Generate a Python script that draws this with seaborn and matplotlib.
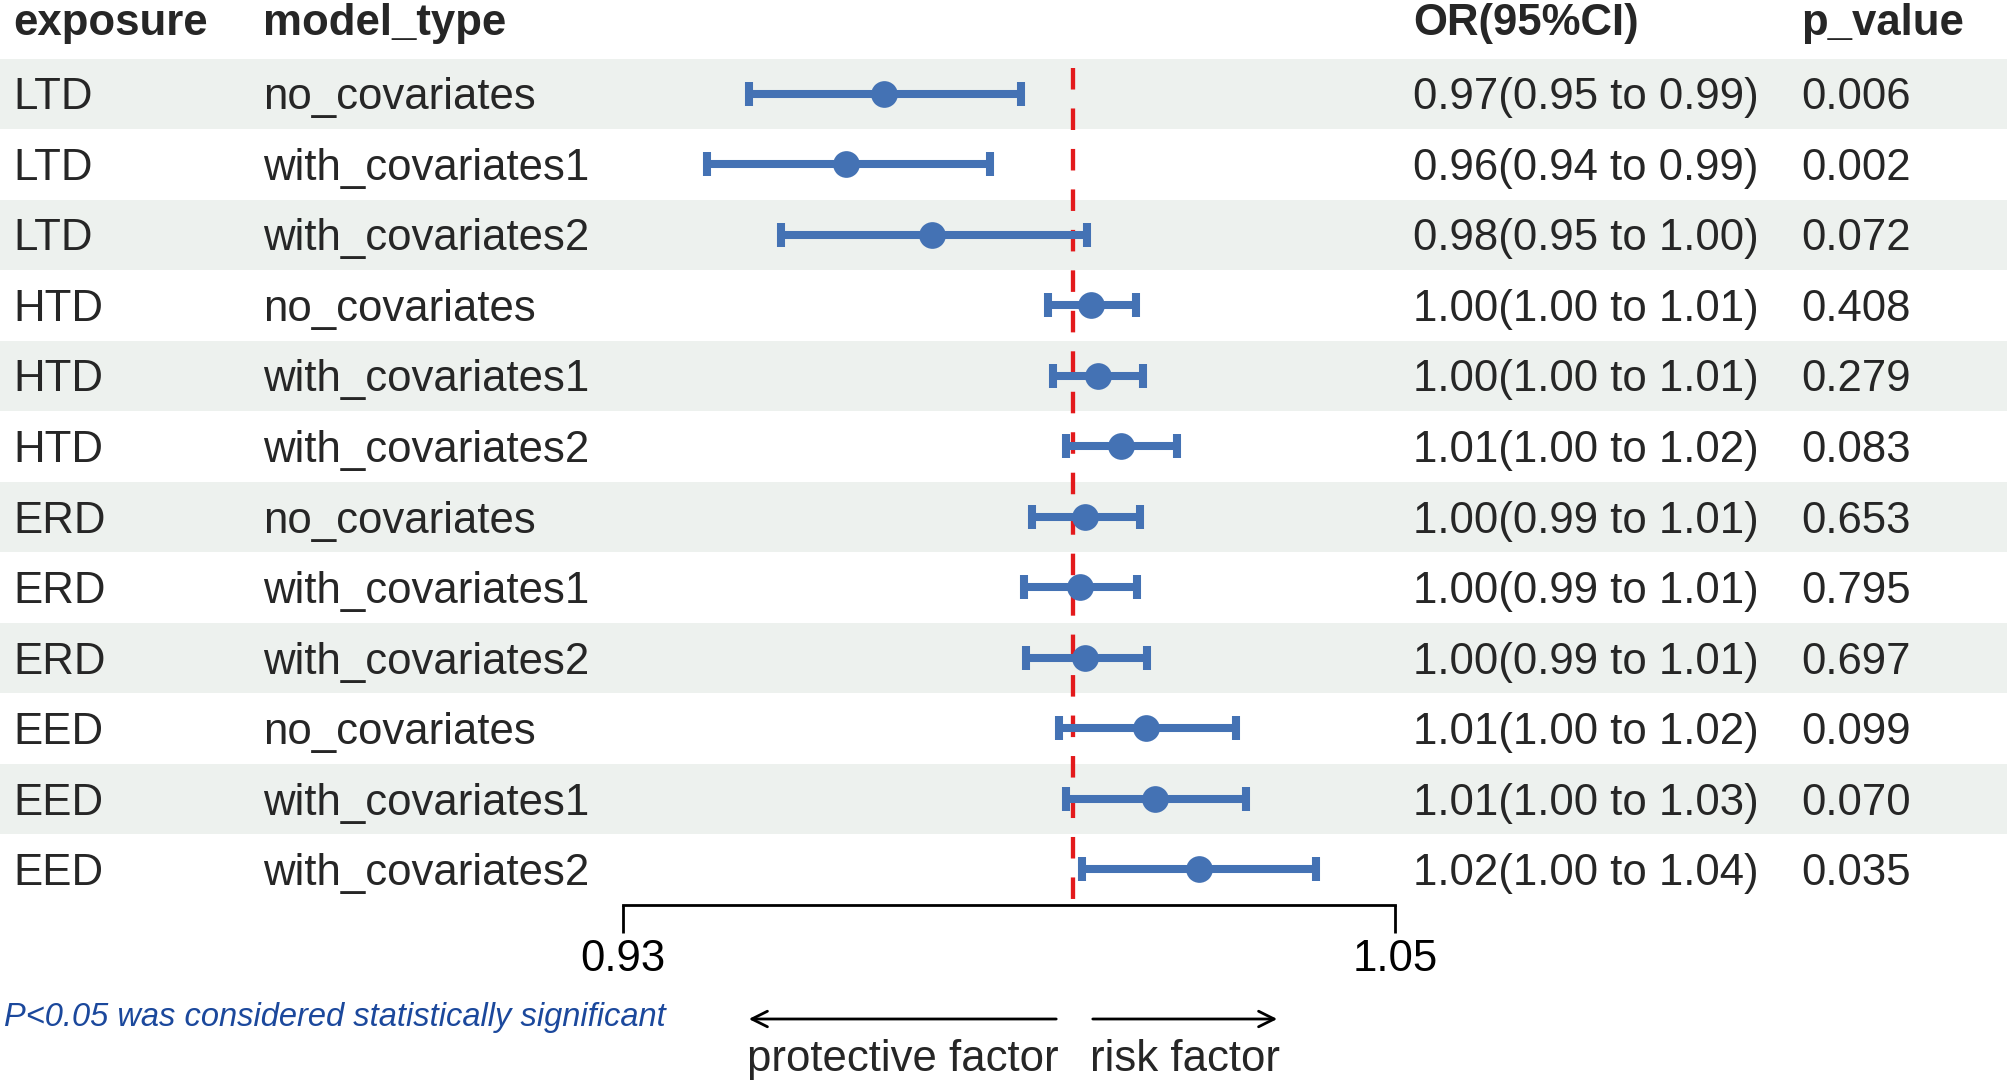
import numpy as np
import pandas as pd
import matplotlib.pyplot as plt
import seaborn as sns

# data
exposure = ['LTD', 'LTD', 'LTD', 'HTD', 'HTD', 'HTD',
            'ERD', 'ERD', 'ERD', 'EED', 'EED', 'EED']
model_type = ['no_covariates', 'with_covariates1', 'with_covariates2'] * 4
or_est = [0.9705, 0.9647, 0.9781, 1.0028, 1.0038, 1.0074,
          1.0018, 1.0010, 1.0018, 1.0113, 1.0127, 1.0195]
ci_low = [0.9496, 0.9430, 0.9546, 0.9960, 0.9968, 0.9988,
          0.9936, 0.9924, 0.9926, 0.9978, 0.9988, 1.0013]
ci_high = [0.9918, 0.9870, 1.0022, 1.0097, 1.0109, 1.0161,
           1.0103, 1.0099, 1.0115, 1.0253, 1.0268, 1.0377]
or_text = ['0.97(0.95 to 0.99)', '0.96(0.94 to 0.99)', '0.98(0.95 to 1.00)',
           '1.00(1.00 to 1.01)', '1.00(1.00 to 1.01)', '1.01(1.00 to 1.02)',
           '1.00(0.99 to 1.01)', '1.00(0.99 to 1.01)', '1.00(0.99 to 1.01)',
           '1.01(1.00 to 1.02)', '1.01(1.00 to 1.03)', '1.02(1.00 to 1.04)']
p_value = ['0.006', '0.002', '0.072', '0.408', '0.279', '0.083',
           '0.653', '0.795', '0.697', '0.099', '0.070', '0.035']
headers = ['exposure', 'model_type', 'OR(95%CI)', 'p_value']
xticks = [0.93, 1.05]

BLUE = '#4472B4'
RED = '#E31A1C'
BAND = '#EDF1EE'
FS = 31.5

df = pd.DataFrame({'exposure': exposure, 'model_type': model_type,
                   'or_est': or_est, 'ci_low': ci_low, 'ci_high': ci_high})
df['row'] = np.arange(1, len(df) + 1)

sns.set_style('white')
plt.rcParams['font.family'] = ['Liberation Sans', 'DejaVu Sans']

W, H = 2008, 1085
fig = plt.figure(figsize=(W / 100, H / 100), dpi=100)
ax = fig.add_axes([0, 1 - 904.75 / H, 1, 904.75 / H])
ax.set_facecolor('none')

# x range so that 0.93 sits at 623 px and 1.05 at 1395 px
ppu = (1395 - 623) / 0.12
ax.set_xlim(0.93 - 623 / ppu, 1.05 + (W - 1395) / ppu)
ax.set_ylim(12.5, -0.333)

# shaded bands on alternate rows
for r in df['row']:
    if r % 2 == 1:
        ax.axhspan(r - 0.5, r + 0.5, color=BAND, zorder=0, lw=0)

# reference line at OR = 1
ax.plot([1.0, 1.0], [0.63, 12.47], color=RED, lw=3.1,
        linestyle=(0, (5.0, 4.4)), dash_capstyle='butt', zorder=1)

# confidence intervals
ax.errorbar(df['or_est'], df['row'],
            xerr=[df['or_est'] - df['ci_low'], df['ci_high'] - df['or_est']],
            fmt='none', ecolor=BLUE, elinewidth=5.8, capsize=8.5,
            capthick=5.8, zorder=2)
sns.scatterplot(data=df, x='or_est', y='row', ax=ax, color=BLUE, s=370,
                marker='o', linewidth=0, zorder=3, legend=False)

# text columns
tr = ax.get_yaxis_transform()
col_x = [13 / W, 263 / W, 1413 / W, 1801 / W]
for cx, h in zip(col_x, headers):
    ax.text(cx, 0.16, h, transform=tr, fontsize=FS, fontweight='bold',
            va='baseline', ha='left')
for i, r in enumerate(df['row']):
    vals = [exposure[i], model_type[i], or_text[i], p_value[i]]
    for cx, v in zip(col_x, vals):
        ax.text(cx, r + 0.22, v, transform=tr, fontsize=FS,
                va='baseline', ha='left')

# axis styling
for s in ['top', 'left', 'right']:
    ax.spines[s].set_visible(False)
ax.spines['bottom'].set_bounds(xticks[0], xticks[-1])
ax.spines['bottom'].set_linewidth(2)
ax.spines['bottom'].set_color('black')
ax.set_xticks(xticks)
ax.set_xticklabels([f'{t:.2f}' for t in xticks])
ax.tick_params(axis='x', direction='out', length=20, width=2,
               pad=5, labelsize=FS, bottom=True, colors='black')
ax.set_yticks([])
ax.set_xlabel('')
ax.set_ylabel('')

# footnote and direction arrows
fig.text(4 / W, (H - 1026) / H,
         'P<0.05 was considered statistically significant',
         fontsize=23.5, style='italic', color='#1B489C', va='baseline')
arrow_kw = dict(arrowstyle='->', lw=2, color='black', mutation_scale=28)
ax.annotate('', xy=(746, H - 1019), xytext=(1059, H - 1019),
            xycoords='figure pixels', textcoords='figure pixels',
            arrowprops=arrow_kw)
ax.annotate('', xy=(1280, H - 1019), xytext=(1090, H - 1019),
            xycoords='figure pixels', textcoords='figure pixels',
            arrowprops=arrow_kw)
fig.text(903 / W, (H - 1071) / H, 'protective factor', fontsize=FS,
         ha='center', va='baseline')
fig.text(1185 / W, (H - 1071) / H, 'risk factor', fontsize=FS,
         ha='center', va='baseline')

fig.savefig('out.png', dpi=100)
